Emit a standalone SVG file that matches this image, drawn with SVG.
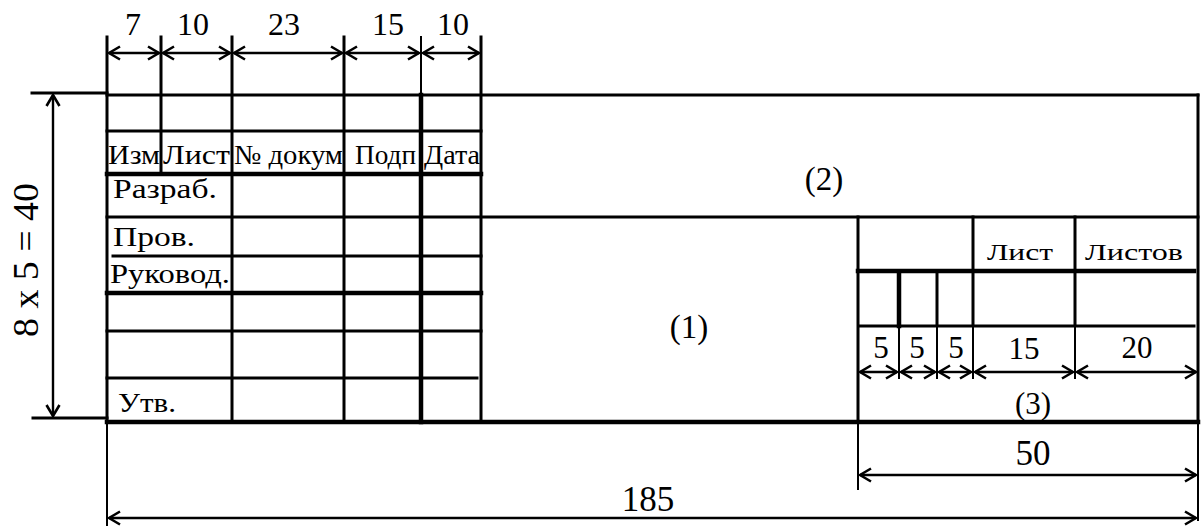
<svg xmlns="http://www.w3.org/2000/svg" width="1202" height="526" viewBox="0 0 1202 526">
<defs>
<style>
.k{stroke:#000;fill:none;stroke-linecap:square}
.t{stroke-width:3}
.T{stroke-width:4.5}
.n{stroke-width:2}
.d{stroke:#000;stroke-width:2.4;fill:none;marker-start:url(#ar);marker-end:url(#ar)}
text{font-family:"Liberation Serif","Times New Roman",serif;fill:#000}
.c{text-anchor:middle}
</style>
<marker id="ar" viewBox="-13 -8 15 16" refX="0" refY="0" markerWidth="15" markerHeight="16" markerUnits="userSpaceOnUse" orient="auto-start-reverse">
<path d="M-11,-6.5 L0,0 L-11,6.5" fill="none" stroke="#000" stroke-width="2.6"/>
</marker>
</defs>
<rect width="1202" height="526" fill="#fff"/>

<g id="frame">
<path class="k t" d="M107,95 H1198 M107,217 H1198 M107,131 H481 M113,256 H481 M107,331 H481 M107,378 H477"/>
<path class="k T" d="M107,174 H481 M107,293 H481 M107,422 H1198"/>
<path class="k t" d="M107,37 V422 M161,37 V174 M232,37 V422 M344,37 V422 M481,37 V422 M1198,95 V422"/>
<path class="k n" d="M421,37 V95 M107,422 V526 M1198,422 V520 M858,422 V489"/>
<path class="k T" d="M421,95 V422"/>
<path class="k t" d="M32,93 H107 M33,418 H107"/>
</g>

<g id="stamp3">
<path class="k t" d="M858,217 V422 M973,217 V326 M1075,217 V326 M858,326 H1194 M937,271 V326"/>
<path class="k T" d="M858,271 H1194 M899,271 V326"/>
<path class="k n" d="M973,326 V378 M1075,326 V378 M899,326 V378 M937,326 V378 M858,326 V378"/>
</g>

<g id="connectors">
<path class="d" d="M109,53 H159"/>
<path class="d" d="M163,53 H230"/>
<path class="d" d="M234,53 H342"/>
<path class="d" d="M346,53 H419"/>
<path class="d" d="M423,53 H479"/>
<path class="d" d="M53,95 V416"/>
<path class="d" d="M860,372 H897"/>
<path class="d" d="M901,372 H935"/>
<path class="d" d="M939,372 H971"/>
<path class="d" d="M975,372 H1073"/>
<path class="d" d="M1077,372 H1196"/>
<path class="d" d="M860,475 H1196"/>
<path class="d" d="M109,518 H1196"/>
</g>

<g id="dimlabels" font-size="32">
<text class="c" x="133" y="35">7</text>
<text class="c" x="193" y="35">10</text>
<text class="c" x="284" y="35">23</text>
<text class="c" x="388" y="35">15</text>
<text class="c" x="453" y="35">10</text>
<text class="c" x="881" y="358" font-size="31">5</text>
<text class="c" x="917" y="358" font-size="31">5</text>
<text class="c" x="956" y="358" font-size="31">5</text>
<text class="c" x="1024" y="359" font-size="31">15</text>
<text class="c" x="1137" y="358" font-size="31">20</text>
<text class="c" x="1033" y="465" font-size="35">50</text>
<text class="c" x="648" y="511" font-size="35">185</text>
<text x="38" y="337" font-size="35" font-family="Liberation Sans, Arial, sans-serif" textLength="154" lengthAdjust="spacingAndGlyphs" transform="rotate(-90 38 337)">8 x 5 = 40</text>
</g>

<g id="table-text" font-size="28">
<text x="108" y="164" textLength="52" lengthAdjust="spacingAndGlyphs">Изм</text>
<text x="163" y="164" textLength="67" lengthAdjust="spacingAndGlyphs">Лист</text>
<text x="234" y="164" textLength="109" lengthAdjust="spacingAndGlyphs">№ докум</text>
<text x="355" y="164" textLength="61" lengthAdjust="spacingAndGlyphs">Подп</text>
<text x="424" y="164" textLength="56" lengthAdjust="spacingAndGlyphs">Дата</text>
<text x="113" y="198" textLength="104" lengthAdjust="spacingAndGlyphs">Разраб.</text>
<text x="113" y="246" textLength="82" lengthAdjust="spacingAndGlyphs">Пров.</text>
<text x="110" y="283" textLength="120" lengthAdjust="spacingAndGlyphs">Руковод.</text>
<text x="118" y="412" textLength="58" lengthAdjust="spacingAndGlyphs">Утв.</text>
<text x="987" y="260" font-size="24" textLength="66" lengthAdjust="spacingAndGlyphs">Лист</text>
<text x="1085" y="260" font-size="24" textLength="98" lengthAdjust="spacingAndGlyphs">Листов</text>
</g>

<g id="zones" font-size="33">
<text class="c" x="824" y="190">(2)</text>
<text class="c" x="689" y="338">(1)</text>
<text class="c" x="1033" y="414" font-size="31">(3)</text>
</g>
</svg>
